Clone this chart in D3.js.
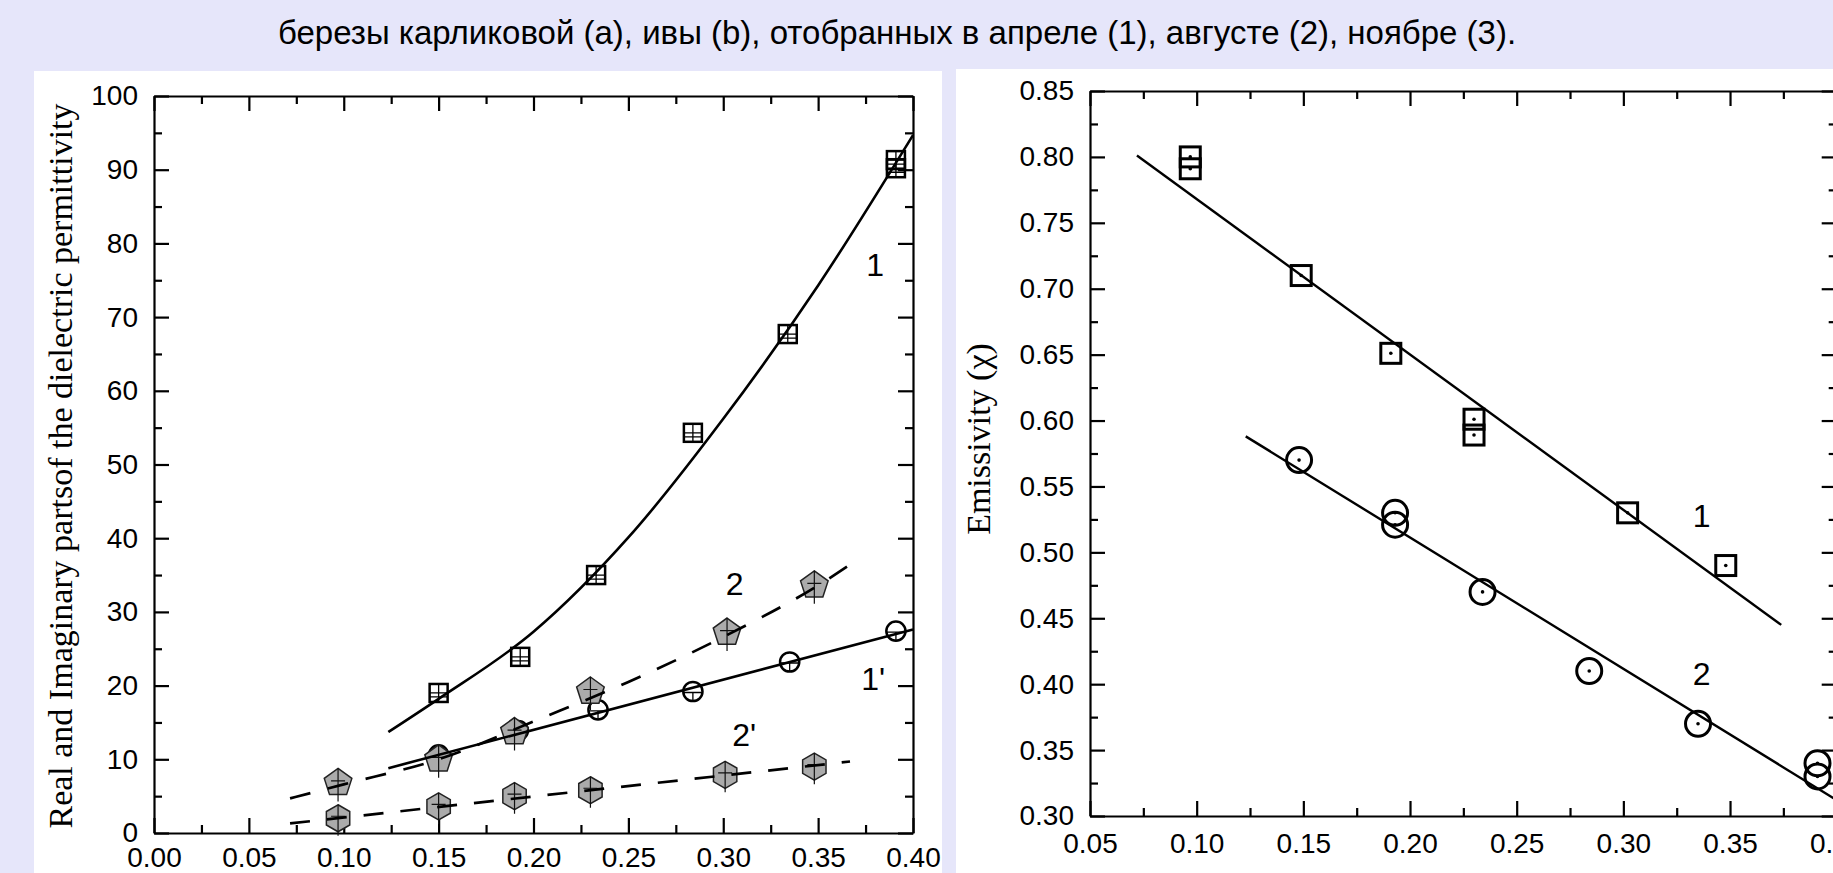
<!DOCTYPE html>
<html>
<head>
<meta charset="utf-8">
<script src="https://cdn.jsdelivr.net/npm/d3@7"></script>
<style>
body { margin: 0; background: #e6e6fa; overflow: hidden; }
svg { display: block; }
.axis path, .axis line { stroke: #000; stroke-width: 2.2; }
.axis text { font-family: "Liberation Sans", Arial, sans-serif; font-size: 28px; fill: #000; }
.lbl { font-family: "Liberation Sans", Arial, sans-serif; font-size: 32px; fill: #000; }
.ytitle { font-family: "Liberation Serif", "Times New Roman", serif; font-size: 34px; fill: #000; }
</style>
</head>
<body>
<script>
const W = 1833, H = 873;

const caption = 'березы карликовой (a), ивы (b), отобранных в апреле (1), августе (2), ноябре (3).';

// ---- panel (a): real / imaginary parts of permittivity vs moisture
const xTicksA = [0.00, 0.05, 0.10, 0.15, 0.20, 0.25, 0.30, 0.35, 0.40];
const yTicksA = [0, 10, 20, 30, 40, 50, 60, 70, 80, 90, 100];
const yTitleA = 'Real and Imaginary partsof the dielectric permittivity';

const re1 = [[0.150, 19.0], [0.193, 23.9], [0.233, 35.0], [0.284, 54.3], [0.334, 67.7], [0.391, 91.3], [0.391, 90.2]];
const im1 = [[0.150, 10.6], [0.192, 13.9], [0.234, 16.7], [0.284, 19.2], [0.335, 23.2], [0.391, 27.4]];
const re2 = [[0.097, 6.8], [0.150, 10.0], [0.190, 13.7], [0.230, 19.2], [0.302, 27.2], [0.348, 33.6]];
const im2 = [[0.097, 2.0], [0.150, 3.6], [0.190, 5.0], [0.230, 5.8], [0.301, 7.9], [0.348, 9.0]];

// fitted curves
const fitRe1 = [[0.1235, 13.7], [0.15, 18.2], [0.20, 27.3], [0.25, 40.1], [0.30, 56.2], [0.35, 74.3], [0.40, 94.7]];
const fitIm1 = [[0.1235, 8.8], [0.40, 27.6]];
const fitRe2 = [[0.0717, 4.7], [0.10, 6.6], [0.15, 10.0], [0.2043, 15.6], [0.25, 20.5], [0.30, 26.6], [0.35, 33.6], [0.3668, 36.4]];
const fitIm2 = [[0.0717, 1.3], [0.3668, 9.7]];

const labelsA = [['1', 0.380, 77.1], ['2', 0.306, 33.9], ["1'", 0.379, 21.0], ["2'", 0.311, 13.3]];

// ---- panel (b): emissivity vs moisture
const xTicksB = [0.05, 0.10, 0.15, 0.20, 0.25, 0.30, 0.35, 0.40];
const yTicksB = [0.30, 0.35, 0.40, 0.45, 0.50, 0.55, 0.60, 0.65, 0.70, 0.75, 0.80, 0.85];
const yTitleB = 'Emissivity (χ)';

const emis1 = [[0.097, 0.800], [0.097, 0.791], [0.149, 0.710], [0.191, 0.651], [0.230, 0.601], [0.230, 0.589], [0.302, 0.530], [0.348, 0.490]];
const emis2 = [[0.148, 0.570], [0.193, 0.530], [0.193, 0.521], [0.234, 0.470], [0.284, 0.410], [0.335, 0.370], [0.391, 0.340], [0.391, 0.330]];
const fitE1 = [[0.072, 0.801], [0.374, 0.445]];
const fitE2 = [[0.123, 0.588], [0.400, 0.312]];

const labelsB = [['1', 0.3367, 0.528], ['2', 0.3367, 0.408]];

const svg = d3.select('body').append('svg').attr('width', W).attr('height', H);

// white image panels on the lavender page
svg.append('rect').attr('x', 34).attr('y', 71).attr('width', 908).attr('height', H - 71).attr('fill', '#fff');
svg.append('rect').attr('x', 956).attr('y', 69).attr('width', W - 956).attr('height', H - 69).attr('fill', '#fff');

svg.append('text').attr('x', 897).attr('y', 44).attr('text-anchor', 'middle')
	.style('font-family', '"Liberation Sans", Arial, sans-serif').style('font-size', '33px')
	.text(caption);

const xA = d3.scaleLinear().domain([0, 0.40]).range([154, 913]);
const yA = d3.scaleLinear().domain([0, 100]).range([833, 96]);
const xB = d3.scaleLinear().domain([0.05, 0.40]).range([1090, 1836.7]);
const yB = d3.scaleLinear().domain([0.30, 0.85]).range([816, 91]);

// box of 4 axes, ticks pointing inward, minor ticks halfway
const drawFrame = (g, x, y, xt, yt, xf, yf, xpad) => {
	let [xl, xr] = x.range(), [yb, ytop] = y.range();
	let mid = t => d3.pairs(t, (a, b) => (a + b) / 2);
	let blank = () => '';
	let axes = [
		[d3.axisBottom, x, xt, xf, `translate(0,${yb})`, xpad],
		[d3.axisTop, x, xt, blank, `translate(0,${ytop})`, xpad],
		[d3.axisLeft, y, yt, yf, `translate(${xl},0)`, 16],
		[d3.axisRight, y, yt, blank, `translate(${xr},0)`, 16]
	];
	for (let [ax, sc, ticks, fmt, tr, pad] of axes) {
		g.append('g').attr('class', 'axis').attr('transform', tr)
			.call(ax(sc).tickValues(ticks).tickFormat(fmt).tickSizeInner(-15).tickSizeOuter(0).tickPadding(pad));
		g.append('g').attr('class', 'axis').attr('transform', tr)
			.call(ax(sc).tickValues(mid(ticks)).tickFormat(blank).tickSizeInner(-8).tickSizeOuter(0))
			.call(s => s.select('.domain').remove());
	}
};

const poly = (n, r) => d3.range(n).map(i => {
	let a = -Math.PI / 2 + i * 2 * Math.PI / n;
	return [r * Math.cos(a), r * Math.sin(a)];
});

const put = (g, data, x, y, draw) => g.selectAll(null).data(data).enter().append('g')
	.attr('transform', d => `translate(${x(d[0])},${y(d[1])})`)
	.each(function () { draw(d3.select(this)); });

// marker glyphs
const gridSquare = m => {
	m.append('rect').attr('x', -9).attr('y', -9).attr('width', 18).attr('height', 18)
		.attr('fill', 'none').attr('stroke', '#000').attr('stroke-width', 2.5);
	m.append('path').attr('d', 'M0,-9V9M-9,0H9M-9,4H9').attr('stroke', '#000').attr('stroke-width', 1.3);
};
const barCircle = m => {
	m.append('circle').attr('r', 9.6).attr('fill', 'none').attr('stroke', '#000').attr('stroke-width', 2.5);
	m.append('path').attr('d', 'M-9,1H9M0,1V10').attr('stroke', '#000').attr('stroke-width', 1.3);
};
const grayPoly = (n, r) => m => {
	m.append('path').attr('d', d3.line()(poly(n, r)) + 'Z')
		.attr('fill', '#ababab').attr('stroke', '#222').attr('stroke-width', 1.5);
	m.append('path').attr('d', `M0,${-r}V${r + 4}M-7,-2H7`).attr('stroke', '#111').attr('stroke-width', 1.2);
};
const dotSquare = m => {
	m.append('rect').attr('x', -10).attr('y', -10).attr('width', 20).attr('height', 20)
		.attr('fill', 'none').attr('stroke', '#000').attr('stroke-width', 3);
	m.append('circle').attr('r', 1.8).attr('fill', '#000');
};
const dotCircle = m => {
	m.append('circle').attr('r', 12.5).attr('fill', 'none').attr('stroke', '#000').attr('stroke-width', 3);
	m.append('circle').attr('r', 1.8).attr('fill', '#000');
};

const lineOf = (x, y, curve) => d3.line().x(d => x(d[0])).y(d => y(d[1])).curve(curve || d3.curveLinear);

//---------------- panel (a)
const gA = svg.append('g');
drawFrame(gA, xA, yA, xTicksA, yTicksA, d3.format('.2f'), d3.format('d'), 14);

put(gA, re1, xA, yA, gridSquare);
put(gA, im1, xA, yA, barCircle);
put(gA, re2, xA, yA, grayPoly(5, 14.5));
put(gA, im2, xA, yA, grayPoly(6, 13.5));

gA.append('path').attr('d', lineOf(xA, yA, d3.curveMonotoneX)(fitRe1)).attr('fill', 'none').attr('stroke', '#000').attr('stroke-width', 2.6);
gA.append('path').attr('d', lineOf(xA, yA)(fitIm1)).attr('fill', 'none').attr('stroke', '#000').attr('stroke-width', 2.6);
gA.append('path').attr('d', lineOf(xA, yA, d3.curveMonotoneX)(fitRe2)).attr('fill', 'none').attr('stroke', '#000')
	.attr('stroke-width', 2.7).attr('stroke-dasharray', '21,18');
gA.append('path').attr('d', lineOf(xA, yA)(fitIm2)).attr('fill', 'none').attr('stroke', '#000')
	.attr('stroke-width', 2.7).attr('stroke-dasharray', '20,17');

gA.selectAll('.lblA').data(labelsA).enter().append('text').attr('class', 'lbl')
	.attr('x', d => xA(d[1])).attr('y', d => yA(d[2])).attr('dy', '0.36em').attr('text-anchor', 'middle').text(d => d[0]);

gA.append('text').attr('class', 'ytitle').attr('text-anchor', 'middle')
	.attr('transform', 'translate(72,466) rotate(-90)').text(yTitleA);

//---------------- panel (b)
const gB = svg.append('g');
drawFrame(gB, xB, yB, xTicksB, yTicksB, d3.format('.2f'), d3.format('.2f'), 17);

gB.append('path').attr('d', lineOf(xB, yB)(fitE1)).attr('fill', 'none').attr('stroke', '#000').attr('stroke-width', 2.4);
gB.append('path').attr('d', lineOf(xB, yB)(fitE2)).attr('fill', 'none').attr('stroke', '#000').attr('stroke-width', 2.4);

put(gB, emis1, xB, yB, dotSquare);
put(gB, emis2, xB, yB, dotCircle);

gB.selectAll('.lblB').data(labelsB).enter().append('text').attr('class', 'lbl')
	.attr('x', d => xB(d[1])).attr('y', d => yB(d[2])).attr('dy', '0.36em').attr('text-anchor', 'middle').text(d => d[0]);

gB.append('text').attr('class', 'ytitle').attr('text-anchor', 'middle')
	.attr('transform', 'translate(990,439) rotate(-90)').text(yTitleB);
</script>
</body>
</html>
